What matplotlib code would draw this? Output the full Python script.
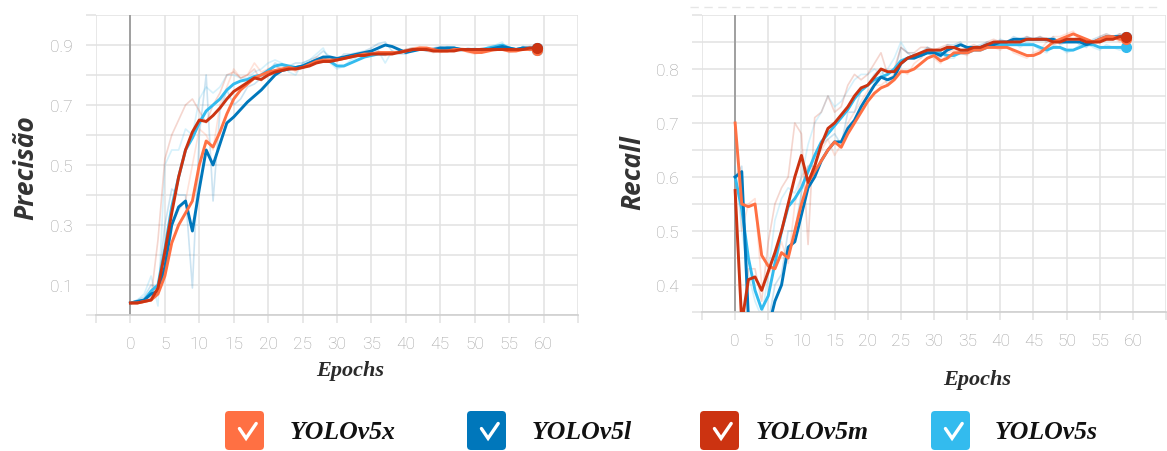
import numpy as np
import matplotlib
matplotlib.use("Agg")
import matplotlib.pyplot as plt
from matplotlib.patches import FancyBboxPatch

# ---------------------------------------------------------------- data
epochs = list(range(60))
models = ["YOLOv5x", "YOLOv5l", "YOLOv5m", "YOLOv5s"]
colors = ["#ff7043", "#0077bb", "#cc3311", "#33bbee"]

x_ticks = [0, 5, 10, 15, 20, 25, 30, 35, 40, 45, 50, 55, 60]
prec_ticks = [0.1, 0.3, 0.5, 0.7, 0.9]
rec_ticks = [0.4, 0.5, 0.6, 0.7, 0.8]

# smoothed precision
prec_5x = [0.04, 0.04, 0.045, 0.05, 0.07, 0.13, 0.24, 0.30, 0.34, 0.38,
           0.50, 0.58, 0.56, 0.61, 0.67, 0.72, 0.75, 0.77, 0.79, 0.80,
           0.81, 0.815, 0.82, 0.825, 0.82, 0.825, 0.835, 0.845, 0.85, 0.85,
           0.85, 0.855, 0.86, 0.865, 0.87, 0.87, 0.875, 0.875, 0.875, 0.875,
           0.88, 0.885, 0.89, 0.89, 0.885, 0.88, 0.88, 0.885, 0.885, 0.88,
           0.875, 0.875, 0.88, 0.885, 0.885, 0.88, 0.88, 0.885, 0.885, 0.885]
prec_5l = [0.04, 0.045, 0.05, 0.07, 0.08, 0.16, 0.30, 0.36, 0.38, 0.28,
           0.42, 0.55, 0.50, 0.57, 0.64, 0.66, 0.685, 0.71, 0.73, 0.75,
           0.775, 0.80, 0.815, 0.82, 0.825, 0.83, 0.84, 0.85, 0.86, 0.86,
           0.855, 0.86, 0.865, 0.87, 0.875, 0.88, 0.89, 0.90, 0.895, 0.885,
           0.875, 0.88, 0.885, 0.885, 0.885, 0.89, 0.89, 0.89, 0.885, 0.885,
           0.885, 0.885, 0.885, 0.89, 0.895, 0.89, 0.885, 0.89, 0.89, 0.89]
prec_5m = [0.04, 0.04, 0.045, 0.05, 0.09, 0.21, 0.34, 0.46, 0.55, 0.61,
           0.65, 0.645, 0.665, 0.69, 0.72, 0.745, 0.76, 0.775, 0.79, 0.785,
           0.80, 0.81, 0.815, 0.82, 0.82, 0.825, 0.83, 0.84, 0.845, 0.845,
           0.85, 0.855, 0.86, 0.865, 0.865, 0.87, 0.87, 0.87, 0.87, 0.875,
           0.88, 0.885, 0.885, 0.885, 0.88, 0.88, 0.88, 0.88, 0.885, 0.885,
           0.885, 0.885, 0.885, 0.885, 0.885, 0.885, 0.885, 0.885, 0.89, 0.89]
prec_5s = [0.04, 0.045, 0.05, 0.08, 0.10, 0.22, 0.36, 0.46, 0.55, 0.59,
           0.64, 0.68, 0.70, 0.72, 0.75, 0.77, 0.78, 0.785, 0.795, 0.80,
           0.815, 0.83, 0.835, 0.83, 0.825, 0.83, 0.84, 0.85, 0.855, 0.845,
           0.83, 0.83, 0.84, 0.85, 0.86, 0.865, 0.87, 0.87, 0.875, 0.875,
           0.88, 0.885, 0.885, 0.885, 0.885, 0.885, 0.89, 0.89, 0.885, 0.885,
           0.885, 0.885, 0.89, 0.895, 0.90, 0.89, 0.885, 0.89, 0.885, 0.885]

# raw precision
prec_5x_raw = [0.04, 0.04, 0.05, 0.05, 0.10, 0.22, 0.30, 0.35, 0.38, 0.50,
               0.62, 0.60, 0.55, 0.70, 0.76, 0.82, 0.79, 0.80, 0.84, 0.81,
               0.82, 0.83, 0.82, 0.83, 0.81, 0.83, 0.84, 0.86, 0.855, 0.85,
               0.855, 0.86, 0.865, 0.87, 0.875, 0.87, 0.88, 0.87, 0.875, 0.88,
               0.885, 0.89, 0.895, 0.89, 0.88, 0.875, 0.885, 0.89, 0.885, 0.875,
               0.87, 0.875, 0.885, 0.89, 0.885, 0.875, 0.88, 0.89, 0.885, 0.885]
prec_5l_raw = [0.04, 0.05, 0.06, 0.10, 0.09, 0.30, 0.42, 0.40, 0.40, 0.09,
               0.60, 0.80, 0.38, 0.68, 0.75, 0.70, 0.72, 0.76, 0.77, 0.79,
               0.81, 0.84, 0.83, 0.83, 0.84, 0.84, 0.85, 0.86, 0.88, 0.86,
               0.85, 0.87, 0.87, 0.875, 0.88, 0.89, 0.905, 0.91, 0.88, 0.87,
               0.87, 0.885, 0.89, 0.88, 0.89, 0.895, 0.89, 0.885, 0.88, 0.89,
               0.885, 0.88, 0.89, 0.895, 0.90, 0.885, 0.88, 0.895, 0.89, 0.89]
prec_5m_raw = [0.04, 0.04, 0.05, 0.06, 0.25, 0.52, 0.60, 0.65, 0.70, 0.72,
               0.68, 0.64, 0.70, 0.74, 0.80, 0.81, 0.79, 0.80, 0.82, 0.78,
               0.82, 0.83, 0.82, 0.83, 0.82, 0.83, 0.84, 0.85, 0.85, 0.85,
               0.855, 0.86, 0.865, 0.87, 0.86, 0.875, 0.87, 0.865, 0.875, 0.88,
               0.885, 0.89, 0.885, 0.88, 0.875, 0.88, 0.885, 0.88, 0.89, 0.885,
               0.88, 0.89, 0.885, 0.88, 0.89, 0.885, 0.88, 0.89, 0.895, 0.89]
prec_5s_raw = [0.04, 0.05, 0.07, 0.13, 0.03, 0.50, 0.55, 0.55, 0.62, 0.60,
               0.72, 0.76, 0.74, 0.76, 0.80, 0.80, 0.79, 0.79, 0.81, 0.82,
               0.84, 0.85, 0.84, 0.81, 0.80, 0.84, 0.85, 0.87, 0.89, 0.84,
               0.82, 0.83, 0.85, 0.86, 0.87, 0.87, 0.88, 0.84, 0.88, 0.875,
               0.885, 0.89, 0.885, 0.88, 0.89, 0.885, 0.895, 0.89, 0.88, 0.885,
               0.89, 0.88, 0.895, 0.90, 0.91, 0.88, 0.88, 0.895, 0.88, 0.885]

# smoothed recall
rec_5x = [0.70, 0.55, 0.545, 0.55, 0.455, 0.435, 0.43, 0.46, 0.45, 0.50,
          0.55, 0.59, 0.61, 0.63, 0.65, 0.665, 0.655, 0.68, 0.70, 0.72,
          0.74, 0.755, 0.765, 0.77, 0.78, 0.795, 0.795, 0.80, 0.81, 0.82,
          0.825, 0.815, 0.82, 0.83, 0.83, 0.83, 0.835, 0.835, 0.84, 0.84,
          0.84, 0.84, 0.835, 0.83, 0.825, 0.825, 0.83, 0.84, 0.85, 0.855,
          0.86, 0.865, 0.86, 0.855, 0.85, 0.855, 0.86, 0.86, 0.855, 0.855]
rec_5l = [0.60, 0.61, 0.34, 0.30, 0.30, 0.32, 0.37, 0.40, 0.47, 0.48,
          0.53, 0.58, 0.60, 0.63, 0.65, 0.665, 0.665, 0.69, 0.705, 0.73,
          0.75, 0.77, 0.785, 0.78, 0.785, 0.81, 0.82, 0.82, 0.825, 0.83,
          0.83, 0.825, 0.835, 0.84, 0.845, 0.84, 0.84, 0.84, 0.845, 0.845,
          0.85, 0.85, 0.855, 0.855, 0.855, 0.855, 0.855, 0.855, 0.855, 0.85,
          0.85, 0.85, 0.85, 0.845, 0.85, 0.855, 0.86, 0.86, 0.86, 0.86]
rec_5m = [0.575, 0.33, 0.41, 0.415, 0.39, 0.425, 0.46, 0.50, 0.55, 0.60,
          0.64, 0.59, 0.62, 0.66, 0.69, 0.70, 0.715, 0.73, 0.75, 0.765,
          0.77, 0.785, 0.80, 0.795, 0.795, 0.81, 0.82, 0.825, 0.83, 0.835,
          0.835, 0.835, 0.84, 0.84, 0.835, 0.835, 0.84, 0.84, 0.845, 0.85,
          0.85, 0.85, 0.85, 0.85, 0.855, 0.855, 0.855, 0.855, 0.85, 0.85,
          0.855, 0.855, 0.855, 0.85, 0.85, 0.85, 0.855, 0.855, 0.86, 0.86]
rec_5s = [0.60, 0.54, 0.45, 0.39, 0.355, 0.38, 0.44, 0.50, 0.545, 0.56,
          0.58, 0.61, 0.64, 0.665, 0.68, 0.695, 0.71, 0.725, 0.745, 0.76,
          0.77, 0.78, 0.785, 0.79, 0.80, 0.815, 0.82, 0.825, 0.825, 0.83,
          0.83, 0.83, 0.825, 0.825, 0.83, 0.83, 0.835, 0.835, 0.84, 0.845,
          0.845, 0.845, 0.845, 0.845, 0.845, 0.845, 0.84, 0.835, 0.84, 0.84,
          0.835, 0.835, 0.84, 0.845, 0.845, 0.84, 0.84, 0.84, 0.84, 0.84]

# raw recall
rec_5x_raw = [0.70, 0.50, 0.55, 0.56, 0.40, 0.42, 0.44, 0.48, 0.44, 0.55,
              0.60, 0.62, 0.63, 0.65, 0.67, 0.64, 0.66, 0.70, 0.72, 0.74,
              0.76, 0.77, 0.77, 0.78, 0.79, 0.80, 0.79, 0.81, 0.82, 0.83,
              0.82, 0.81, 0.83, 0.835, 0.83, 0.825, 0.84, 0.835, 0.845, 0.84,
              0.835, 0.845, 0.83, 0.825, 0.82, 0.83, 0.835, 0.85, 0.86, 0.86,
              0.865, 0.87, 0.855, 0.85, 0.845, 0.86, 0.865, 0.86, 0.85, 0.855]
rec_5l_raw = [0.60, 0.62, 0.30, 0.28, 0.31, 0.33, 0.40, 0.42, 0.50, 0.50,
              0.57, 0.62, 0.62, 0.66, 0.67, 0.68, 0.66, 0.72, 0.72, 0.76,
              0.77, 0.79, 0.80, 0.77, 0.79, 0.84, 0.83, 0.82, 0.83, 0.84,
              0.83, 0.82, 0.845, 0.845, 0.85, 0.835, 0.84, 0.845, 0.85, 0.845,
              0.855, 0.85, 0.86, 0.855, 0.86, 0.855, 0.86, 0.85, 0.86, 0.845,
              0.85, 0.855, 0.845, 0.84, 0.855, 0.86, 0.865, 0.86, 0.865, 0.86]
rec_5m_raw = [0.575, 0.30, 0.43, 0.43, 0.37, 0.48, 0.55, 0.58, 0.60, 0.70,
              0.68, 0.475, 0.71, 0.72, 0.75, 0.72, 0.73, 0.77, 0.79, 0.78,
              0.79, 0.81, 0.83, 0.79, 0.80, 0.84, 0.83, 0.83, 0.84, 0.84,
              0.835, 0.84, 0.845, 0.84, 0.83, 0.84, 0.845, 0.84, 0.85, 0.855,
              0.85, 0.85, 0.855, 0.85, 0.86, 0.855, 0.86, 0.855, 0.845, 0.85,
              0.86, 0.855, 0.86, 0.85, 0.845, 0.85, 0.86, 0.855, 0.865, 0.86]
rec_5s_raw = [0.62, 0.50, 0.42, 0.37, 0.34, 0.42, 0.52, 0.56, 0.58, 0.57,
              0.60, 0.66, 0.70, 0.72, 0.75, 0.73, 0.74, 0.76, 0.78, 0.79,
              0.79, 0.80, 0.79, 0.80, 0.82, 0.85, 0.83, 0.83, 0.82, 0.84,
              0.835, 0.83, 0.82, 0.82, 0.835, 0.83, 0.84, 0.835, 0.845, 0.85,
              0.85, 0.845, 0.85, 0.84, 0.85, 0.845, 0.835, 0.83, 0.845, 0.84,
              0.83, 0.835, 0.845, 0.85, 0.84, 0.835, 0.845, 0.84, 0.835, 0.84]

prec_smooth = [prec_5x, prec_5l, prec_5m, prec_5s]
prec_raw = [prec_5x_raw, prec_5l_raw, prec_5m_raw, prec_5s_raw]
rec_smooth = [rec_5x, rec_5l, rec_5m, rec_5s]
rec_raw = [rec_5x_raw, rec_5l_raw, rec_5m_raw, rec_5s_raw]

# ---------------------------------------------------------------- figure
W, H = 1167, 452
fig = plt.figure(figsize=(W / 100, H / 100), dpi=100)
fig.patch.set_facecolor("white")

GRID = "#e2e2e2"
TICK_TXT = "#a0a0a0"
tick_font = dict(family=["Roboto", "DejaVu Sans"], size=12.5, weight="light")


def px_axes(left, top, right, bottom):
    return fig.add_axes([left / W, 1 - bottom / H, (right - left) / W, (bottom - top) / H])


def style_panel(ax, ylim, ystep, labelled):
    ax.set_xlim(-5, 65)
    ax.set_ylim(*ylim)
    xt = np.arange(-5, 66, 5)
    ax.set_xticks(xt)
    ax.set_xticklabels([str(int(v)) if int(v) in x_ticks else "" for v in xt],
                       fontdict=tick_font, color=TICK_TXT)
    yt = np.round(np.arange(ylim[0], ylim[1] + 1e-9, ystep), 3)
    ax.set_yticks(yt)
    ax.set_yticklabels([f"{v:.1f}" if any(abs(v - t) < 1e-6 for t in labelled) else "" for v in yt],
                       fontdict=tick_font, color=TICK_TXT)
    ax.tick_params(axis="x", length=6, width=1.1, color=GRID, pad=9)
    ax.tick_params(axis="y", length=7, width=1.1, color=GRID, pad=10)
    ax.grid(True, color=GRID, lw=1.1, zorder=0)
    ax.set_axisbelow(True)
    for s in ("top", "right", "left"):
        ax.spines[s].set_visible(False)
    ax.spines["bottom"].set_color("#cfcfcf")
    ax.spines["bottom"].set_linewidth(1.2)
    ax.axvline(0, color="#9a9a9a", lw=1.3, zorder=1)
    ax.set_facecolor("none")


def draw_runs(ax, smooth, raw):
    order = [3, 1, 0, 2]
    for i in order:
        ax.plot(epochs, raw[i], color=colors[i], lw=1.2, alpha=0.2, zorder=2)
    for i in order:
        ax.plot(epochs, smooth[i], color=colors[i], lw=2.1, zorder=3,
                solid_joinstyle="round")
        ax.plot(epochs[-1], smooth[i][-1], "o", color=colors[i], ms=7, zorder=4)


ax1 = px_axes(96, 16, 578, 316)
style_panel(ax1, (0.0, 1.0), 0.1, prec_ticks)
draw_runs(ax1, prec_smooth, prec_raw)

ax2 = px_axes(702, 16, 1166, 313)
style_panel(ax2, (0.35, 0.9), 0.05, rec_ticks)
draw_runs(ax2, rec_smooth, rec_raw)

# ---------------------------------------------------------------- labels and legend (pixel overlay)
ov = fig.add_axes([0, 0, 1, 1], zorder=5)
ov.set_xlim(0, W)
ov.set_ylim(H, 0)
ov.axis("off")

ylab = dict(family=["Open Sans", "DejaVu Sans"], style="italic", weight="bold",
            size=19, color="#333333", rotation=90, ha="center", va="center")
ov.text(26, 168, "Precisão", **ylab)
ov.text(633, 173, "Recall", **ylab)

xlab = dict(family=["Liberation Serif", "DejaVu Serif"], style="italic", weight="bold",
            size=16, color="#2a2a2a", ha="center", va="center")
ov.text(350, 371, "Epochs", **xlab)
ov.text(977, 380, "Epochs", **xlab)

ov.plot([690, 1160], [8, 8], color="#e6e6e6", lw=1.0, ls=(0, (6, 4)))

box_x = [225, 467, 700, 931]
text_x = [290, 532, 756, 995]
bw, bh, by = 39, 39, 412
for i, name in enumerate(models):
    x0 = box_x[i]
    ov.add_patch(FancyBboxPatch((x0, by), bw, bh,
                                boxstyle="round,pad=0,rounding_size=4",
                                fc=colors[i], ec="none"))
    ov.plot([x0 + 0.37 * bw, x0 + 0.54 * bw, x0 + 0.80 * bw],
            [by + 0.45 * bh, by + 0.70 * bh, by + 0.32 * bh],
            color="white", lw=2.4, solid_capstyle="round", solid_joinstyle="miter")
    ov.text(text_x[i], by + bh / 2 + 1, name, family=["Liberation Serif", "DejaVu Serif"],
            style="italic", weight="bold", size=18.5, color="#111111",
            ha="left", va="center")

fig.savefig("out.png", dpi=100, facecolor="white")
